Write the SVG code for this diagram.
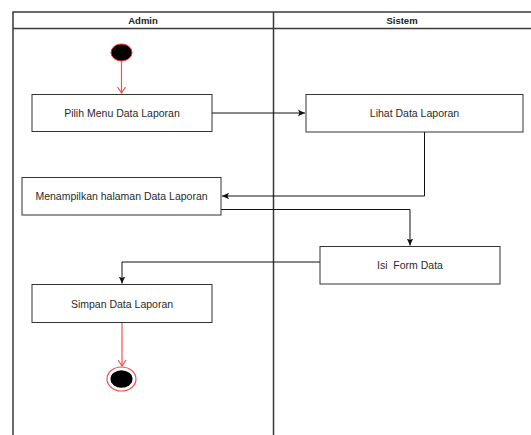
<svg xmlns="http://www.w3.org/2000/svg" width="531" height="435" viewBox="0 0 531 435">
<style>
.lane{fill:none;stroke:#3a3a3a;stroke-width:1.5}
.hd{font-family:"Liberation Sans",Arial,sans-serif;font-size:9.5px;font-weight:bold;fill:#222;text-anchor:middle}
.box{fill:#fff;stroke:#333;stroke-width:1}
.lbl{font-family:"Liberation Sans",Arial,sans-serif;font-size:10.5px;fill:#2a2a2a;text-anchor:middle;dominant-baseline:central}
.flow{fill:none;stroke:#111;stroke-width:1}
.red{fill:none;stroke:#f05050;stroke-width:1.2}
</style>
<defs>
<marker id="ah" markerWidth="8" markerHeight="8" refX="7" refY="4" orient="auto" markerUnits="userSpaceOnUse">
<path d="M0,0.8 L7,4 L0,7.2 L1.5,4 Z" fill="#111"/>
</marker>
<marker id="rv" markerWidth="10" markerHeight="10" refX="5" refY="8" orient="0" markerUnits="userSpaceOnUse">
<path d="M1,2 L5,8 L9,2" fill="none" stroke="#f05050" stroke-width="1.2"/>
</marker>
</defs>
<rect width="531" height="435" fill="#fff"/>
<g id="pool">
<path class="lane" d="M13,435 V12 H531 M13,28.5 H531 M273.5,12 V435"/>
<text class="hd" x="143" y="23.5">Admin</text>
<text class="hd" x="402" y="23.5">Sistem</text>
</g>
<g id="connectors">
<path class="red" d="M121.5,61 V93" marker-end="url(#rv)"/>
<path class="flow" d="M212,113 H305" marker-end="url(#ah)"/>
<path class="flow" d="M424.5,132 V196 H222" marker-end="url(#ah)"/>
<path class="flow" d="M221,209.5 H410 V245.5" marker-end="url(#ah)"/>
<path class="flow" d="M320,262 H122 V283.5" marker-end="url(#ah)"/>
<path class="red" d="M122,323 V366" marker-end="url(#rv)"/>
</g>
<g id="start">
<ellipse cx="121.5" cy="52.5" rx="10.5" ry="8.5" fill="#000" stroke="#f03030" stroke-width="1"/>
</g>
<g id="pilih">
<rect class="box" x="32" y="94.5" width="180" height="37"/>
<text class="lbl" x="122" y="113">Pilih Menu Data Laporan</text>
</g>
<g id="lihat">
<rect class="box" x="306" y="94.5" width="217" height="37.5"/>
<text class="lbl" x="414.5" y="113">Lihat Data Laporan</text>
</g>
<g id="menampilkan">
<rect class="box" x="22" y="177.5" width="199" height="37.5"/>
<text class="lbl" x="121.5" y="196">Menampilkan halaman Data Laporan</text>
</g>
<g id="isi">
<rect class="box" x="320" y="246.5" width="180" height="37.5"/>
<text class="lbl" x="410" y="265" xml:space="preserve">Isi  Form Data</text>
</g>
<g id="simpan">
<rect class="box" x="32" y="284.5" width="180" height="38"/>
<text class="lbl" x="122" y="303.5">Simpan Data Laporan</text>
</g>
<g id="end">
<ellipse cx="121.5" cy="379" rx="14.5" ry="12" fill="#fff" stroke="#f05050" stroke-width="1.2"/>
<ellipse cx="121.5" cy="379" rx="11" ry="8.8" fill="#000"/>
</g>
</svg>
